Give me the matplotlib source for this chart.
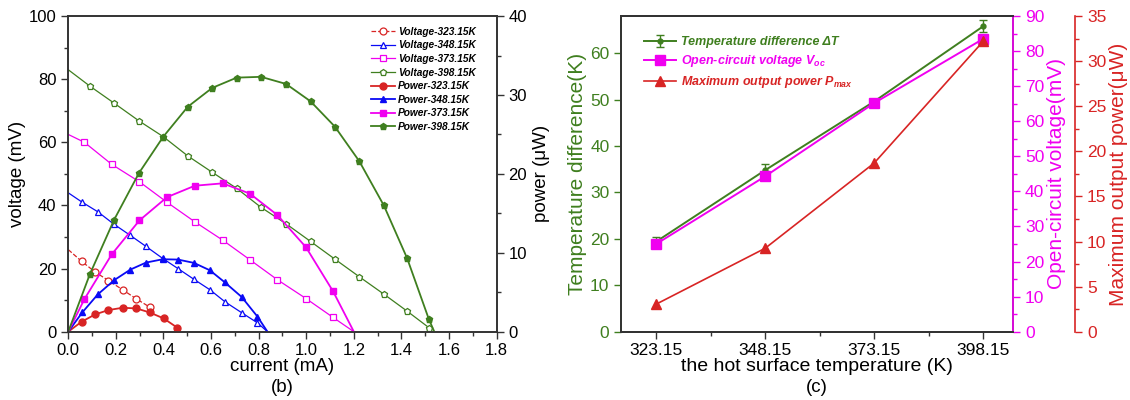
import matplotlib
matplotlib.use("Agg")
from matplotlib import pyplot as plt
from matplotlib.ticker import MultipleLocator

plt.rcParams['font.family'] = ['Liberation Sans', 'DejaVu Sans']
plt.rcParams['mathtext.fontset'] = 'custom'
plt.rcParams['mathtext.it'] = 'Liberation Sans:italic:bold'
plt.rcParams['mathtext.rm'] = 'Liberation Sans:bold'

### data for panel (b): current (mA), voltage (mV), power (uW)
I_323 = [0, 0.056, 0.113, 0.169, 0.228, 0.286, 0.342, 0.401, 0.458]
V_323 = [26, 22.3, 18.9, 16.2, 13.3, 10.4, 7.8]
P_323 = [0, 1.26, 2.19, 2.74, 3.03, 2.95, 2.44, 1.68, 0.51]

I_348 = [0, 0.059, 0.124, 0.193, 0.261, 0.327, 0.397, 0.461, 0.528, 0.595, 0.658, 0.729, 0.795, 0.837]
V_348 = [44, 41, 38, 34, 30.5, 27, 23.2, 20, 16.6, 13.3, 9.5, 6.0, 2.8, 0]
P_348 = [0, 2.44, 4.72, 6.53, 7.87, 8.76, 9.18, 9.14, 8.72, 7.78, 6.25, 4.39, 1.91, 0]

I_373 = [0, 0.068, 0.183, 0.299, 0.415, 0.532, 0.649, 0.763, 0.878, 0.999, 1.113, 1.2]
V_373 = [62.5, 60, 53, 47.5, 41, 34.8, 29, 22.8, 16.5, 10.5, 4.5, 0]
P_373 = [0, 4.13, 9.81, 14.1, 17.05, 18.5, 18.8, 17.5, 14.8, 10.7, 5.1, 0]

I_398 = [0, 0.091, 0.193, 0.297, 0.399, 0.502, 0.605, 0.708, 0.81, 0.915, 1.018, 1.12, 1.223, 1.326, 1.424, 1.515, 1.538]
V_398 = [83, 77.8, 72.4, 66.8, 61.8, 55.7, 50.5, 45.4, 39.4, 34.2, 28.6, 23, 17.4, 11.9, 6.5, 1.3]
P_398 = [0, 7.3, 14.2, 20.1, 24.7, 28.5, 30.9, 32.2, 32.3, 31.4, 29.2, 26.0, 21.6, 16.0, 9.3, 1.6, 0]

### data for panel (c)
T_hot = [323.15, 348.15, 373.15, 398.15]
dT = [19.4, 34.8, 49.6, 65.8]
dT_err = [0.9, 1.3, 0.5, 1.3]
Voc = [25.0, 44.3, 65.2, 83.5]
Pmax = [3.05, 9.25, 18.7, 32.2]

red = '#d82424'
blue = '#0a0af5'
mag = '#f000f0'
green = '#3f7f1f'
spine_c = '#333333'

fig = plt.figure(figsize=(11.3, 4.0), dpi=100)

### ---- panel (b) ----
ax = fig.add_axes([0.0604, 0.1708, 0.3791, 0.789])
axp = ax.twinx()

vstyle = dict(lw=0.9, ms=5, mfc='white', mew=0.9)
pstyle = dict(lw=1.3, ms=5)
ax.plot(I_323[:len(V_323)], V_323, '--', color=red, marker='o', markevery=slice(1, None), label='Voltage-323.15K', **vstyle)
ax.plot(I_348, V_348, '-', color=blue, marker='^', markevery=slice(1, -1), label='Voltage-348.15K', **vstyle)
ax.plot(I_373, V_373, '-', color=mag, marker='s', markevery=slice(1, -1), label='Voltage-373.15K', **vstyle)
ax.plot(I_398[:len(V_398)], V_398, '-', color=green, marker='p', markevery=slice(1, None), label='Voltage-398.15K', **vstyle)

axp.plot(I_323, P_323, '-', color=red, marker='o', markevery=slice(1, None), label='Power-323.15K', **pstyle)
axp.plot(I_348, P_348, '-', color=blue, marker='^', markevery=slice(1, -1), label='Power-348.15K', **pstyle)
axp.plot(I_373, P_373, '-', color=mag, marker='s', markevery=slice(1, -1), label='Power-373.15K', **pstyle)
axp.plot(I_398, P_398, '-', color=green, marker='p', markevery=slice(1, -1), label='Power-398.15K', **pstyle)

ax.set_xlim(0, 1.8)
ax.set_ylim(0, 100)
axp.set_ylim(0, 40)
ax.xaxis.set_major_locator(MultipleLocator(0.2))
ax.xaxis.set_minor_locator(MultipleLocator(0.1))
ax.yaxis.set_major_locator(MultipleLocator(20))
ax.yaxis.set_minor_locator(MultipleLocator(10))
axp.yaxis.set_major_locator(MultipleLocator(10))
axp.yaxis.set_minor_locator(MultipleLocator(5))
ax.set_xticklabels(['%.1f' % v for v in ax.get_xticks()])

for a in (ax, axp):
    for s in a.spines.values():
        s.set_color(spine_c)
        s.set_linewidth(1.2)
    a.tick_params(which='both', direction='out', colors=spine_c, labelcolor='black', labelsize=12, width=1.0)
    a.tick_params(which='major', length=5)
    a.tick_params(which='minor', length=3)

ax.set_xlabel('current (mA)', fontsize=13.5, labelpad=0)
ax.set_ylabel('voltage (mV)', fontsize=13.5, labelpad=2)
axp.set_ylabel('power (\u03bcW)', fontsize=13.5, labelpad=4)
fig.text(0.0604 + 0.3791 / 2, 0.03, '(b)', ha='center', va='center', fontsize=13.5)

h1, l1 = ax.get_legend_handles_labels()
h2, l2 = axp.get_legend_handles_labels()
axp.legend(h1 + h2, l1 + l2, loc='upper right', bbox_to_anchor=(0.965, 0.985), frameon=False,
           prop=dict(size=7.3, weight='bold', style='italic'), handlelength=2.3,
           handletextpad=0.3, labelspacing=0.35, borderaxespad=0.2)

### ---- panel (c) ----
bx = fig.add_axes([0.5498, 0.1708, 0.3469, 0.789])
bx2 = bx.twinx()
bx3 = bx.twinx()
bx3.spines['right'].set_position(('outward', 44.5))

l_dt = bx.errorbar(T_hot, dT, yerr=dT_err, color=green, marker='o', ms=3.5, lw=1.4,
                   capsize=3, elinewidth=1.0, label='Temperature difference \u0394T')
l_voc, = bx2.plot(T_hot, Voc, '-', color=mag, marker='s', ms=7, lw=1.4, label='Open-circuit voltage $V_{oc}$')
l_pm, = bx3.plot(T_hot, Pmax, '-', color=red, marker='^', ms=7, lw=1.2, label='Maximum output power $P_{max}$')

bx.set_xlim(315.15, 405.05)
bx.set_xticks(T_hot)
bx.set_xticklabels(['323.15', '348.15', '373.15', '398.15'])
bx.set_xticks([335.65, 360.65, 385.65], minor=True)
bx.set_ylim(0, 68)
bx.yaxis.set_major_locator(MultipleLocator(10))
bx2.set_ylim(0, 90)
bx2.yaxis.set_major_locator(MultipleLocator(10))
bx2.yaxis.set_minor_locator(MultipleLocator(5))
bx3.set_ylim(0, 35)
bx3.yaxis.set_major_locator(MultipleLocator(5))
bx3.yaxis.set_minor_locator(MultipleLocator(2.5))

for a in (bx, bx2, bx3):
    for s in a.spines.values():
        s.set_color(spine_c)
        s.set_linewidth(1.2)
    a.tick_params(which='both', direction='out', labelsize=12.5, width=1.0)
    a.tick_params(which='major', length=5)
    a.tick_params(which='minor', length=3)
bx.spines['left'].set_color(green)
bx.tick_params(axis='y', colors=green)
bx.tick_params(axis='x', which='both', colors=spine_c, labelcolor='black')
bx2.spines['right'].set_color(mag)
bx2.tick_params(axis='y', which='both', colors=mag)
bx3.spines['right'].set_color(red)
bx3.tick_params(axis='y', which='both', colors=red)

bx.set_xlabel('the hot surface temperature (K)', fontsize=14, labelpad=0)
bx.set_ylabel('Temperature difference(K)', fontsize=15, color=green, labelpad=2)
bx2.set_ylabel('Open-circuit voltage(mV)', fontsize=15, color=mag, labelpad=2)
bx3.set_ylabel('Maximum output power(\u03bcW)', fontsize=15, color=red, labelpad=2)
fig.text(0.5498 + 0.3469 / 2, 0.03, '(c)', ha='center', va='center', fontsize=13.5)

leg = bx3.legend([l_dt, l_voc, l_pm],
                 ['Temperature difference \u0394T', 'Open-circuit voltage $V_{oc}$', 'Maximum output power $P_{max}$'],
                 loc='upper left', bbox_to_anchor=(0.04, 0.96), frameon=False,
                 prop=dict(size=9, weight='bold', style='italic'), handlelength=2.5,
                 handletextpad=0.4, labelspacing=0.4, borderaxespad=0.2)
for t, c in zip(leg.get_texts(), [green, mag, red]):
    t.set_color(c)

fig.savefig('out.png', dpi=100)
